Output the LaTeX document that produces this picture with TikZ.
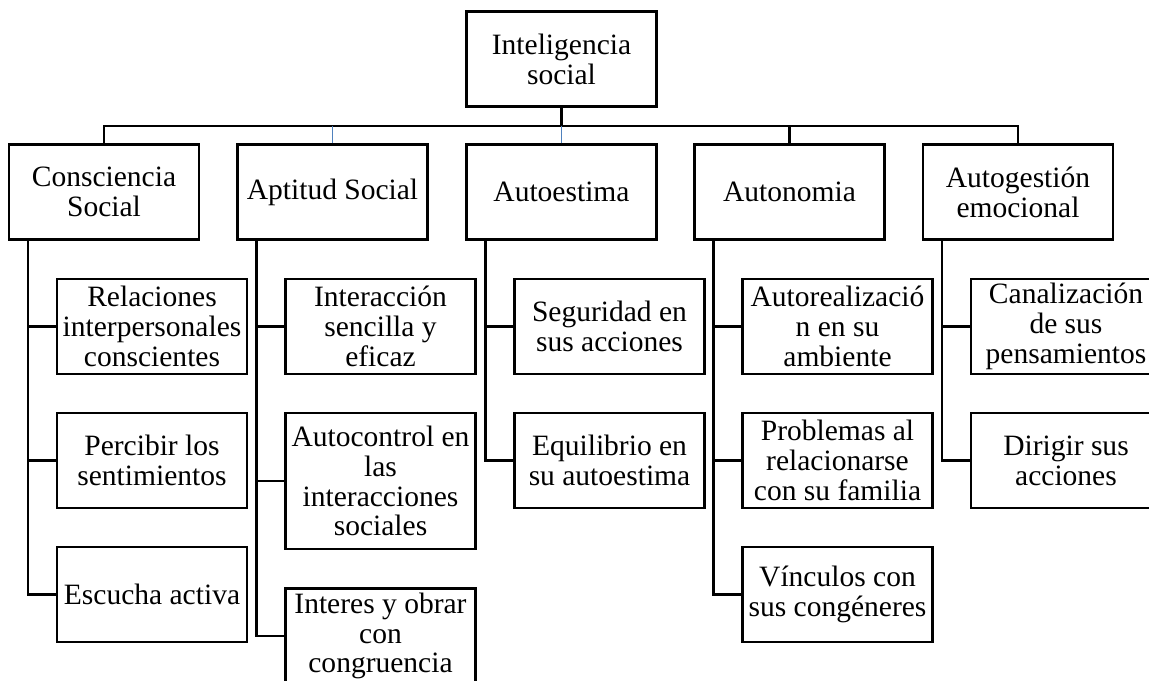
\documentclass[tikz,border=0pt]{standalone}
\usepackage{fontspec}
\setmainfont{Liberation Serif}
\definecolor{linkblue}{HTML}{4F81BD}

\begin{document}
\begin{tikzpicture}[
    x=0.02cm, y=-0.02cm,
    box/.style={
        rectangle,
        minimum width=3.8cm,
        minimum height=1.9cm,
        draw=black,
        line width=1.4pt,
        fill=white,
        inner sep=1pt,
        font=\fontsize{16.8}{17}\selectfont,
        align=center
    },
    tall/.style={minimum height=2.72cm},
    link/.style={line width=1.4pt},
    bluelink/.style={line width=1pt, draw=linkblue}
]
\clip (0,0) rectangle (1149,680);

% top
\node[box] (root) at (561.5,59) {Inteligencia\\social};

% first level
\node[box] (conc) at (104,192) {Consciencia\\Social};
\node[box] (apti) at (332.5,192) {Aptitud Social};
\node[box] (estim) at (561.5,192) {Autoestima};
\node[box] (auton) at (789.5,192) {Autonomia};
\node[box] (gest) at (1018,192) {Autogestión\\emocional};

% second level
\node[box] (conc1) at (152,326.5) {Relaciones\\interpersonales\\conscientes};
\node[box] (conc2) at (152,460.5) {Percibir los\\sentimientos};
\node[box] (conc3) at (152,594.5) {Escucha activa};

\node[box] (apti1) at (380.5,326.5) {Interacción\\sencilla y\\eficaz};
\node[box, tall] (apti2) at (380.5,481) {Autocontrol en\\las\\interacciones\\sociales};
\node[box] (apti3) at (380.5,636) {Interes y obrar\\con\\congruencia};

\node[box] (estim1) at (609.5,326.5) {Seguridad en\\sus acciones};
\node[box] (estim2) at (609.5,460.5) {Equilibrio en\\su autoestima};

\node[box] (auton1) at (837.5,326.5) {Autorealizació\\n en su\\ambiente};
\node[box] (auton2) at (837.5,460.5) {Problemas al\\relacionarse\\con su familia};
\node[box] (auton3) at (837.5,594.5) {Vínculos con\\sus congéneres};

\node[box] (gest1) at (1066,326.5) {Canalización\\de sus\\pensamientos};
\node[box] (gest2) at (1066,460.5) {Dirigir sus\\acciones};

% bus
\coordinate (bus) at (561.5,126);
\draw[link] (root.south) -- (bus);
\draw[link] (conc.north) |- (bus) -| (gest.north);
\draw[link] (auton.north) -- (auton.north |- bus);
\draw[bluelink] (apti.north) -- (apti.north |- bus);
\draw[bluelink] (estim.north) -- (estim.north |- bus);

% branches
\foreach \p/\c in {conc/conc1, conc/conc2, conc/conc3,
                   apti/apti1, apti/apti2, apti/apti3,
                   estim/estim1, estim/estim2,
                   auton/auton1, auton/auton2, auton/auton3,
                   gest/gest1, gest/gest2}
    \draw[link] ([xshift=0.4cm]\p.south west) |- (\c.west);

\end{tikzpicture}
\end{document}
